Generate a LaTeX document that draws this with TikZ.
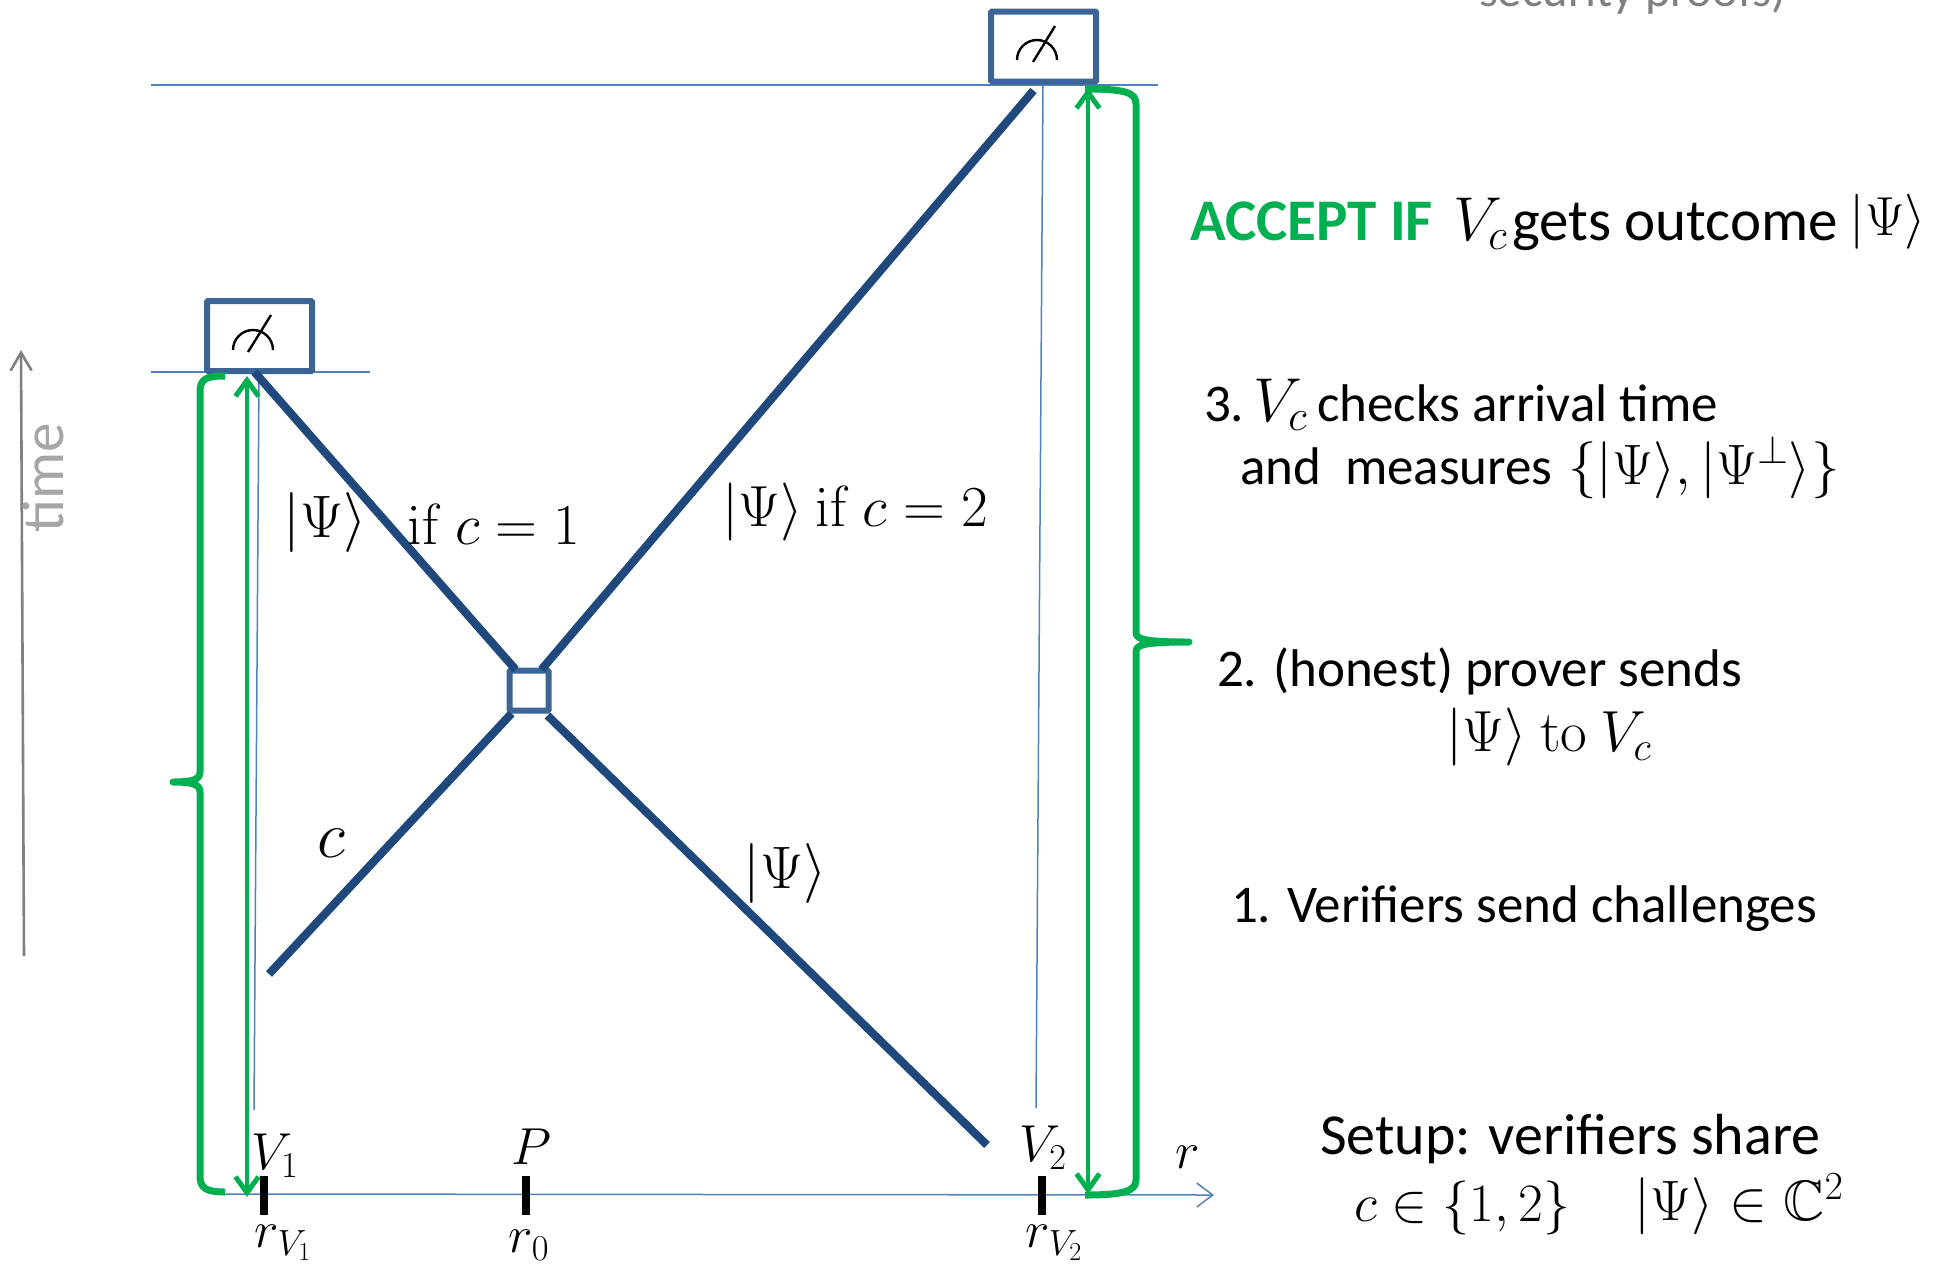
\documentclass[tikz,border=0pt]{standalone}
\usepackage{fix-cm}
\usepackage{amsmath,amssymb}
\usepackage[no-math]{fontspec}
\setmainfont{Carlito}
\usetikzlibrary{arrows.meta}
\definecolor{dkblue}{HTML}{1F497D}
\definecolor{boxblue}{HTML}{3C6494}
\definecolor{thinblue}{HTML}{4F81BD}
\definecolor{accgreen}{HTML}{00B050}
\definecolor{tgray}{HTML}{808080}
\definecolor{lgray}{HTML}{A6A6A6}
\newcommand{\kPsi}{|\Psi\rangle}
\tikzset{
  ruleline/.style={draw=thinblue,line width=1.5pt},
  photon/.style={draw=dkblue,line width=8.2pt},
  boxnode/.style={draw=boxblue,line width=6pt,fill=white,inner sep=0pt,outer sep=0pt,rounded corners=1pt},
  tick/.style={fill=black,inner sep=0pt,outer sep=0pt,minimum width=8pt,minimum height=39pt},
  brace/.style={draw=accgreen,line width=7pt,line join=round},
  span/.style={draw=accgreen,line width=4.6pt,{Straight Barb[length=16pt,width=23pt,line width=5pt]}-{Straight Barb[length=16pt,width=23pt,line width=5pt]}},
  meter/.style={draw=black,line width=2.4pt},
  mlabel/.style={inner sep=0pt,outer sep=0pt,font=\fontsize{60}{66}\selectfont},
  slabel/.style={inner sep=0pt,outer sep=0pt,font=\fontsize{52}{58}\selectfont},
  txt/.style={inner sep=0pt,outer sep=0pt,anchor=base west,font=\fontsize{53}{60}\selectfont},
  big/.style={inner sep=0pt,outer sep=0pt,anchor=base west,font=\fontsize{59}{66}\selectfont},
}
\begin{document}
\begin{tikzpicture}[x=1pt,y=-1pt]
\useasboundingbox (0,0) rectangle (1946,1264);
% coordinates
\coordinate (topL) at (151,85);
\coordinate (topR) at (1158,85);
\coordinate (midL) at (151,372);
\coordinate (midR) at (370,372);
\coordinate (axisL) at (225,1194);
\coordinate (axisR) at (1214,1195);
\coordinate (thinLa) at (259,373);
\coordinate (thinLb) at (254,1110);
\coordinate (thinRa) at (1043,85);
\coordinate (thinRb) at (1036,1108);
\coordinate (timeA) at (24,956);
\coordinate (timeB) at (21,350);
\coordinate (endA) at (269,974);
\coordinate (endB) at (987,1145);
\coordinate (spanLa) at (247,376);
\coordinate (spanLb) at (247,1197);
\coordinate (spanRa) at (1088,88);
\coordinate (spanRb) at (1088,1194);
% thin rules
\draw[ruleline] (topL) -- (topR);
\draw[ruleline] (midL) -- (midR);
\draw[ruleline] (thinLa) -- (thinLb);
\draw[ruleline] (thinRa) -- (thinRb);
\draw[ruleline,-{Straight Barb[length=16pt,width=24pt,line width=1.5pt]}] (axisL) -- (axisR);
\draw[draw=tgray,line width=2.6pt,-{Straight Barb[length=18pt,width=21pt,line width=2.6pt]}] (timeA) -- (timeB);
% boxes
\node[boxnode,minimum width=105pt,minimum height=70pt] (mL) at (259.5,336) {};
\node[boxnode,minimum width=105pt,minimum height=70pt] (mR) at (1043.5,46.5) {};
\node[boxnode,minimum width=39pt,minimum height=40pt] (pr) at (529,690.5) {};
% photon lines
\draw[photon] ([xshift=6pt,yshift=1pt]pr.north west) -- ([xshift=-5pt,yshift=-1pt]mL.south);
\draw[photon] ([xshift=-7pt,yshift=1pt]pr.north east) -- ([xshift=-10pt,yshift=-9pt]mR.south);
\draw[photon] ([xshift=2pt,yshift=-3pt]pr.south west) -- (endA);
\draw[photon] ([xshift=-1pt,yshift=-5pt]pr.south east) -- (endB);
% meters
\draw[meter] (233,350) arc[start angle=180,end angle=360,radius=20];
\draw[meter] (248,352) -- (271,315);
\draw[meter] (1017,60) arc[start angle=180,end angle=360,radius=20];
\draw[meter] (1033,62) -- (1055,26);
% ticks
\node[tick] (t1) at (264,1195.5) {};
\node[tick] (t0) at (526,1195.5) {};
\node[tick] (t2) at (1042,1195.5) {};
% green
\draw[brace] (225,376) .. controls (206,376) and (200,379) .. (200,392) -- (200,772)
  .. controls (200,779) and (194,782) .. (173,782) .. controls (194,782) and (200,785) .. (200,792)
  -- (200,1176) .. controls (200,1188) and (206,1192) .. (225,1192);
\draw[brace] (1085,89) .. controls (1124,89) and (1136,92) .. (1136,104) -- (1136,632)
  .. controls (1136,639) and (1142,642) .. (1189,642) .. controls (1142,642) and (1136,645) .. (1136,652)
  -- (1136,1180) .. controls (1136,1191) and (1124,1195) .. (1085,1195);
\draw[span] (spanLa) -- (spanLb);
\draw[span] (spanRa) -- (spanRb);
% left labels
\node[mlabel] (a1) at (325,522) {$\kPsi$};
\node[mlabel,font=\fontsize{58}{66}\selectfont] (a2) at (494,524) {$\mathrm{if}\ c=1$};
\node[mlabel,font=\fontsize{58}{66}\selectfont] (a3) at (855,512) {$\kPsi\ \mathrm{if}\ c=2$};
\node[inner sep=0pt,font=\fontsize{66}{70}\selectfont] (a4) at (331,843) {$c$};
\node[mlabel] (a5) at (785,873) {$\kPsi$};
\node[slabel] (v1) at (275,1156) {$V_1$};
\node[slabel] (p) at (531,1147) {$P$};
\node[slabel] (v2) at (1043,1148) {$V_2$};
\node[slabel] (rr) at (1188,1157) {$r$};
\node[slabel] (r1) at (283,1243) {$r_{V_1}$};
\node[slabel] (r0) at (529,1245) {$r_0$};
\node[slabel] (r2) at (1054,1243) {$r_{V_2}$};
\node[inner sep=0pt,rotate=90,text=lgray,font=\fontsize{59}{66}\selectfont] (tm) at (43,478) {time};
% right text
\node[txt,text=tgray,font=\fontsize{48.5}{60}\selectfont] (s0) at (1479,6) {security proofs)};
\node[big,text=accgreen,font=\fontsize{59}{66}\selectfont\bfseries] (s1) at (1190,240) {ACCEPT IF};
\node[big,font=\fontsize{62}{66}\selectfont] (s2a) at (1453,240) {$V_c$};
\node[big] (s2b) at (1512,240) {gets outcome};
\node[mlabel,font=\fontsize{55}{66}\selectfont] (s2c) at (1888,222) {$\kPsi$};
\node[txt] (s3a) at (1204,421) {3.};
\node[big,font=\fontsize{62}{66}\selectfont] (s3b) at (1253,421) {$V_c$};
\node[txt] (s3c) at (1317,421) {checks arrival time};
\node[txt] (s4a) at (1240,484) {and\ \ measures};
\node[big,font=\fontsize{57}{66}\selectfont] (s4b) at (1568,484) {$\{\kPsi,|\Psi^\perp\rangle\}$};
\node[txt] (s5) at (1217,686) {2. (honest) prover sends};
\node[mlabel,font=\fontsize{58}{66}\selectfont] (s6) at (1549,737) {$\kPsi\ \mathrm{to}\ V_c$};
\node[txt] (s7) at (1231,922) {1. Verifiers send challenges};
\node[txt,font=\fontsize{58}{66}\selectfont] (s8) at (1320,1154) {Setup: verifiers share};
\node[mlabel,font=\fontsize{54}{60}\selectfont] (s9) at (1462,1208) {$c\in\{1,2\}$};
\node[mlabel,font=\fontsize{57}{60}\selectfont] (s10) at (1739,1204) {$\kPsi\in\mathbb{C}^2$};
\end{tikzpicture}
\end{document}
